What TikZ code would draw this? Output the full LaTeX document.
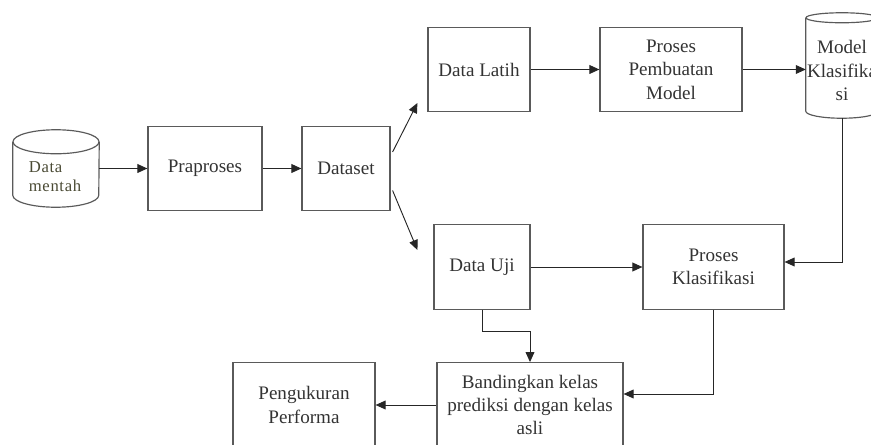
\documentclass[tikz,border=0pt]{standalone}
\usepackage{fontspec}
\setmainfont{Liberation Serif}
\newfontfamily\widefont[LetterSpace=4]{Liberation Serif}
\usepackage{xcolor}
\usepackage{tikz}
\usetikzlibrary{positioning,arrows.meta,calc}

\definecolor{boxline}{HTML}{5A5A5A}
\definecolor{txtgray}{HTML}{333333}
\definecolor{olivetxt}{HTML}{4A4A34}

\begin{document}
\begin{tikzpicture}[
    x=0.03cm, y=0.03cm,
    >={Triangle[length=8.5pt,width=7.5pt]},
    box/.style={rectangle, draw=boxline, line width=1pt, minimum height=2.54cm, inner sep=0pt, align=center, text=txtgray, font=\fontsize{16.3}{20}\selectfont},
    dbbox/.style={rectangle, inner sep=0pt},
    dbline/.style={draw=boxline, line width=1pt},
    arrow/.style={->, draw=black!85, line width=0.8pt}
]
\useasboundingbox (0,0) rectangle (871,444);
\clip (0,0) rectangle (871,444);

% upper row
\node[dbbox, minimum width=2.58cm, minimum height=2.31cm] (mentah) at (56,275.5) {};
\node[box, minimum width=3.42cm] (prapro) at (205,275.5) {Praproses};
\node[box, minimum width=2.64cm] (dataset) at (346,275.5) {Dataset};
\node[box, minimum width=3.06cm] (latih) at (479,374.5) {Data Latih};
\node[box, minimum width=4.26cm] (buat) at (671,374.5) {Proses\\Pembuatan\\Model};
\node[dbbox, minimum width=2.16cm, minimum height=3.15cm] (model) at (842,378.5) {};

% lower rows
\node[box, minimum width=2.88cm] (uji) at (482,177) {Data Uji};
\node[box, minimum width=4.23cm] (klas) at (713.5,177) {Proses\\Klasifikasi};
\node[box, minimum width=5.58cm] (banding) at (530,39) {Bandingkan kelas\\prediksi dengan kelas\\asli};
\node[box, minimum width=4.26cm] (ukur) at (304,39) {Pengukuran\\Performa};

% cylinders
\draw[dbline] ($(mentah.north)+(0,-12)$) ellipse [x radius=43, y radius=12];
\draw[dbline] ($(mentah.north west)+(0,-12)$) -- ($(mentah.south west)+(0,12)$)
    arc[start angle=180, end angle=360, x radius=43, y radius=12] -- ($(mentah.north east)+(0,-12)$);
\node[align=left, text=olivetxt, font=\widefont\fontsize{14.2}{16.5}\selectfont, inner sep=0pt] (mentahtxt) at ($(mentah)+(-1,-8)$) {Data\\mentah};

\draw[dbline] ($(model.north)+(0,-5)$) ellipse [x radius=36, y radius=5];
\draw[dbline] ($(model.north west)+(0,-5)$) -- ($(model.south west)+(0,7)$)
    arc[start angle=180, end angle=360, x radius=36, y radius=7] -- ($(model.north east)+(0,-5)$);
\node[align=center, text=txtgray, font=\fontsize{16.3}{20}\selectfont, inner sep=0pt] (modeltxt) at ($(model)+(0,-5)$) {Model\\Klasifika\\si};

% free arrow ends
\coordinate (tolatih) at ($(latih.west)+(-10,-33.5)$);
\coordinate (touji) at ($(uji.west)+(-16,17)$);

% connectors
\draw[arrow] (mentah.east) -- (prapro.west);
\draw[arrow] (prapro) -- (dataset);
\draw[arrow] ($(dataset.east)+(2,16.5)$) -- (tolatih);
\draw[arrow] ($(dataset.east)+(2,-22)$) -- (touji);
\draw[arrow] (latih) -- (buat);
\draw[arrow] (buat.east) -- (buat.east -| model.west);
\draw[arrow] (model.south) |- ($(klas.east)+(0,5)$);
\draw[arrow] (uji) -- (klas);
\draw[arrow] (uji.south) -- ++(0,-22) -| (banding.north);
\draw[arrow] (klas.south) |- ($(banding.east)+(0,11)$);
\draw[arrow] (banding.west) -- (ukur.east);
\end{tikzpicture}
\end{document}
